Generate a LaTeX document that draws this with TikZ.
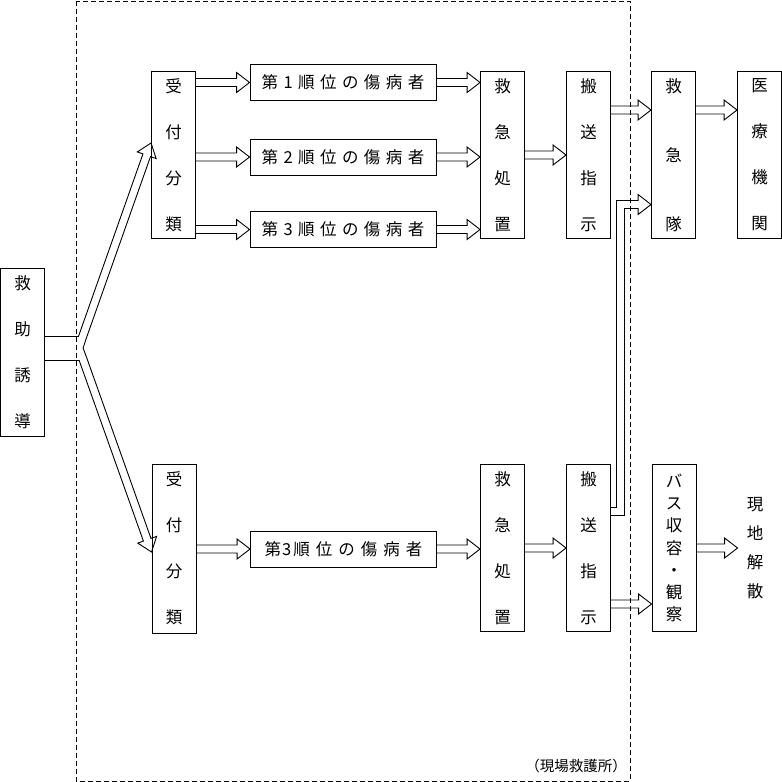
\documentclass[tikz,border=0pt]{standalone}
\usepackage{fontspec}
\setmainfont{Noto Sans CJK JP}
\newfontfamily\jpwide[LetterSpace=33]{Noto Sans CJK JP}
\usetikzlibrary{calc}
% outline of a block arrow: name, from, to
\newcommand{\blk}[3]{%
  \coordinate (#1-s) at (#2);
  \coordinate (#1-e) at (#3);
  \coordinate (#1-h) at ($(#1-e)!13pt!(#1-s)$);
  \coordinate (#1-a) at ($(#1-s)!4pt!90:(#1-e)$);
  \coordinate (#1-b) at ($(#1-s)!4pt!-90:(#1-e)$);
  \draw[arrline] (#1-a) -- ($(#1-h)!4pt!90:(#1-e)$) -- ($(#1-h)!10pt!90:(#1-e)$)
    -- (#1-e) -- ($(#1-h)!10pt!-90:(#1-e)$) -- ($(#1-h)!4pt!-90:(#1-e)$) -- (#1-b);}
\newcommand{\gap}{\hspace{6pt}}

\begin{document}
\begin{tikzpicture}[x=1pt, y=-1pt,
  vbox/.style={draw, line width=0.9pt, minimum width=44, minimum height=167, inner sep=0pt, align=center, font=\fontsize{16.5}{46}\selectfont},
  hbox/.style={draw, line width=0.9pt, minimum width=186, minimum height=36, inner sep=0pt, font=\jpwide\fontsize{16.5}{18}\selectfont},
  arrline/.style={line width=0.9pt, line join=miter}]
\useasboundingbox (0,0) rectangle (782,782);
% ---- the first-aid station ----
\draw[line width=0.9pt, dash pattern=on 5pt off 3pt] (76,1) rectangle (630,781);
\node[font=\fontsize{14.5}{16}\selectfont] (site) at (576,766) {（現場救護所）};
% ---- boxes ----
\node[vbox, minimum height=168] (kyu) at (22.5,352) {救\\助\\誘\\導};
\node[vbox] (rA) at (173.5,155) {受\\付\\分\\類};
\node[hbox] (pA1) at (343,82.5) {第1順位の傷病者};
\node[hbox] (pA2) at (343,157) {第2順位の傷病者};
\node[hbox] (pA3) at (343,229.5) {第3順位の傷病者};
\node[vbox] (tA) at (502.5,155) {救\\急\\処\\置};
\node[vbox] (sA) at (588.5,155) {搬\\送\\指\\示};
\node[vbox, font=\fontsize{16.5}{69}\selectfont] (kq) at (673.5,155) {救\\急\\隊};
\node[vbox] (iq) at (759.5,155) {医\\療\\機\\関};
\node[vbox, minimum height=169] (rB) at (174,548.5) {受\\付\\分\\類};
\node[hbox, font=\fontsize{16.5}{18}\selectfont] (pB) at (343.5,549) {第\kern1pt 3\kern2pt 順\gap 位\gap の\gap 傷\gap 病\gap 者};
\node[vbox] (tB) at (502.5,548) {救\\急\\処\\置};
\node[vbox] (sB) at (588.5,548) {搬\\送\\指\\示};
\node[vbox, font=\fontsize{16.5}{22.2}\selectfont] (bus) at (674,548) {バ\\ス\\収\\容\\・\\観\\察};
\node[align=center, inner sep=0pt, inner xsep=9, font=\fontsize{16.5}{29}\selectfont] (gen) at (755,548) {現\\地\\解\\散};
% ---- fork out of the guidance box ----
\coordinate (fork) at (83.1,348);
\blk{fu}{82.4,337.3}{rA.west |- 0,143}
\blk{fl}{82.8,358.7}{rB.west |- 0,552}
\draw[arrline] (kyu.east |- fu-a) -- (fu-a);
\draw[arrline] (kyu.east |- fl-b) -- (fl-b);
\draw[arrline] (fu-b) -- (fork) -- (fl-a);
% ---- upper flow ----
\blk{u1}{rA.east |- pA1}{pA1.west}
\blk{u2}{rA.east |- pA2}{pA2.west}
\blk{u3}{rA.east |- pA3}{pA3.west}
\blk{v1}{pA1.east}{tA.west |- pA1}
\blk{v2}{pA2.east}{tA.west |- pA2}
\blk{v3}{pA3.east}{tA.west |- pA3}
\blk{u4}{tA.east}{sA.west}
\blk{u5}{sA.east |- 0,110}{kq.west |- 0,110}
\blk{u6}{kq.east |- 0,110}{iq.west |- 0,110}
% ---- lower flow ----
\blk{l1}{rB.east |- pB}{pB.west}
\blk{l2}{pB.east}{tB.west |- pB}
\blk{l3}{tB.east}{sB.west}
\blk{m1}{sB.east |- 0,604}{bus.west |- 0,604}
\blk{m2}{bus.east}{gen.west}
% ---- lower transport order up to the ambulance ----
\blk{bd}{626,204.5}{kq.west |- 0,204.5}
\draw[arrline] (sB.east |- 0,507.5) -- (616,507.5) |- (bd-a);
\draw[arrline] (sB.east |- 0,515.5) -- (624,515.5) |- (bd-b);
\end{tikzpicture}
\end{document}
